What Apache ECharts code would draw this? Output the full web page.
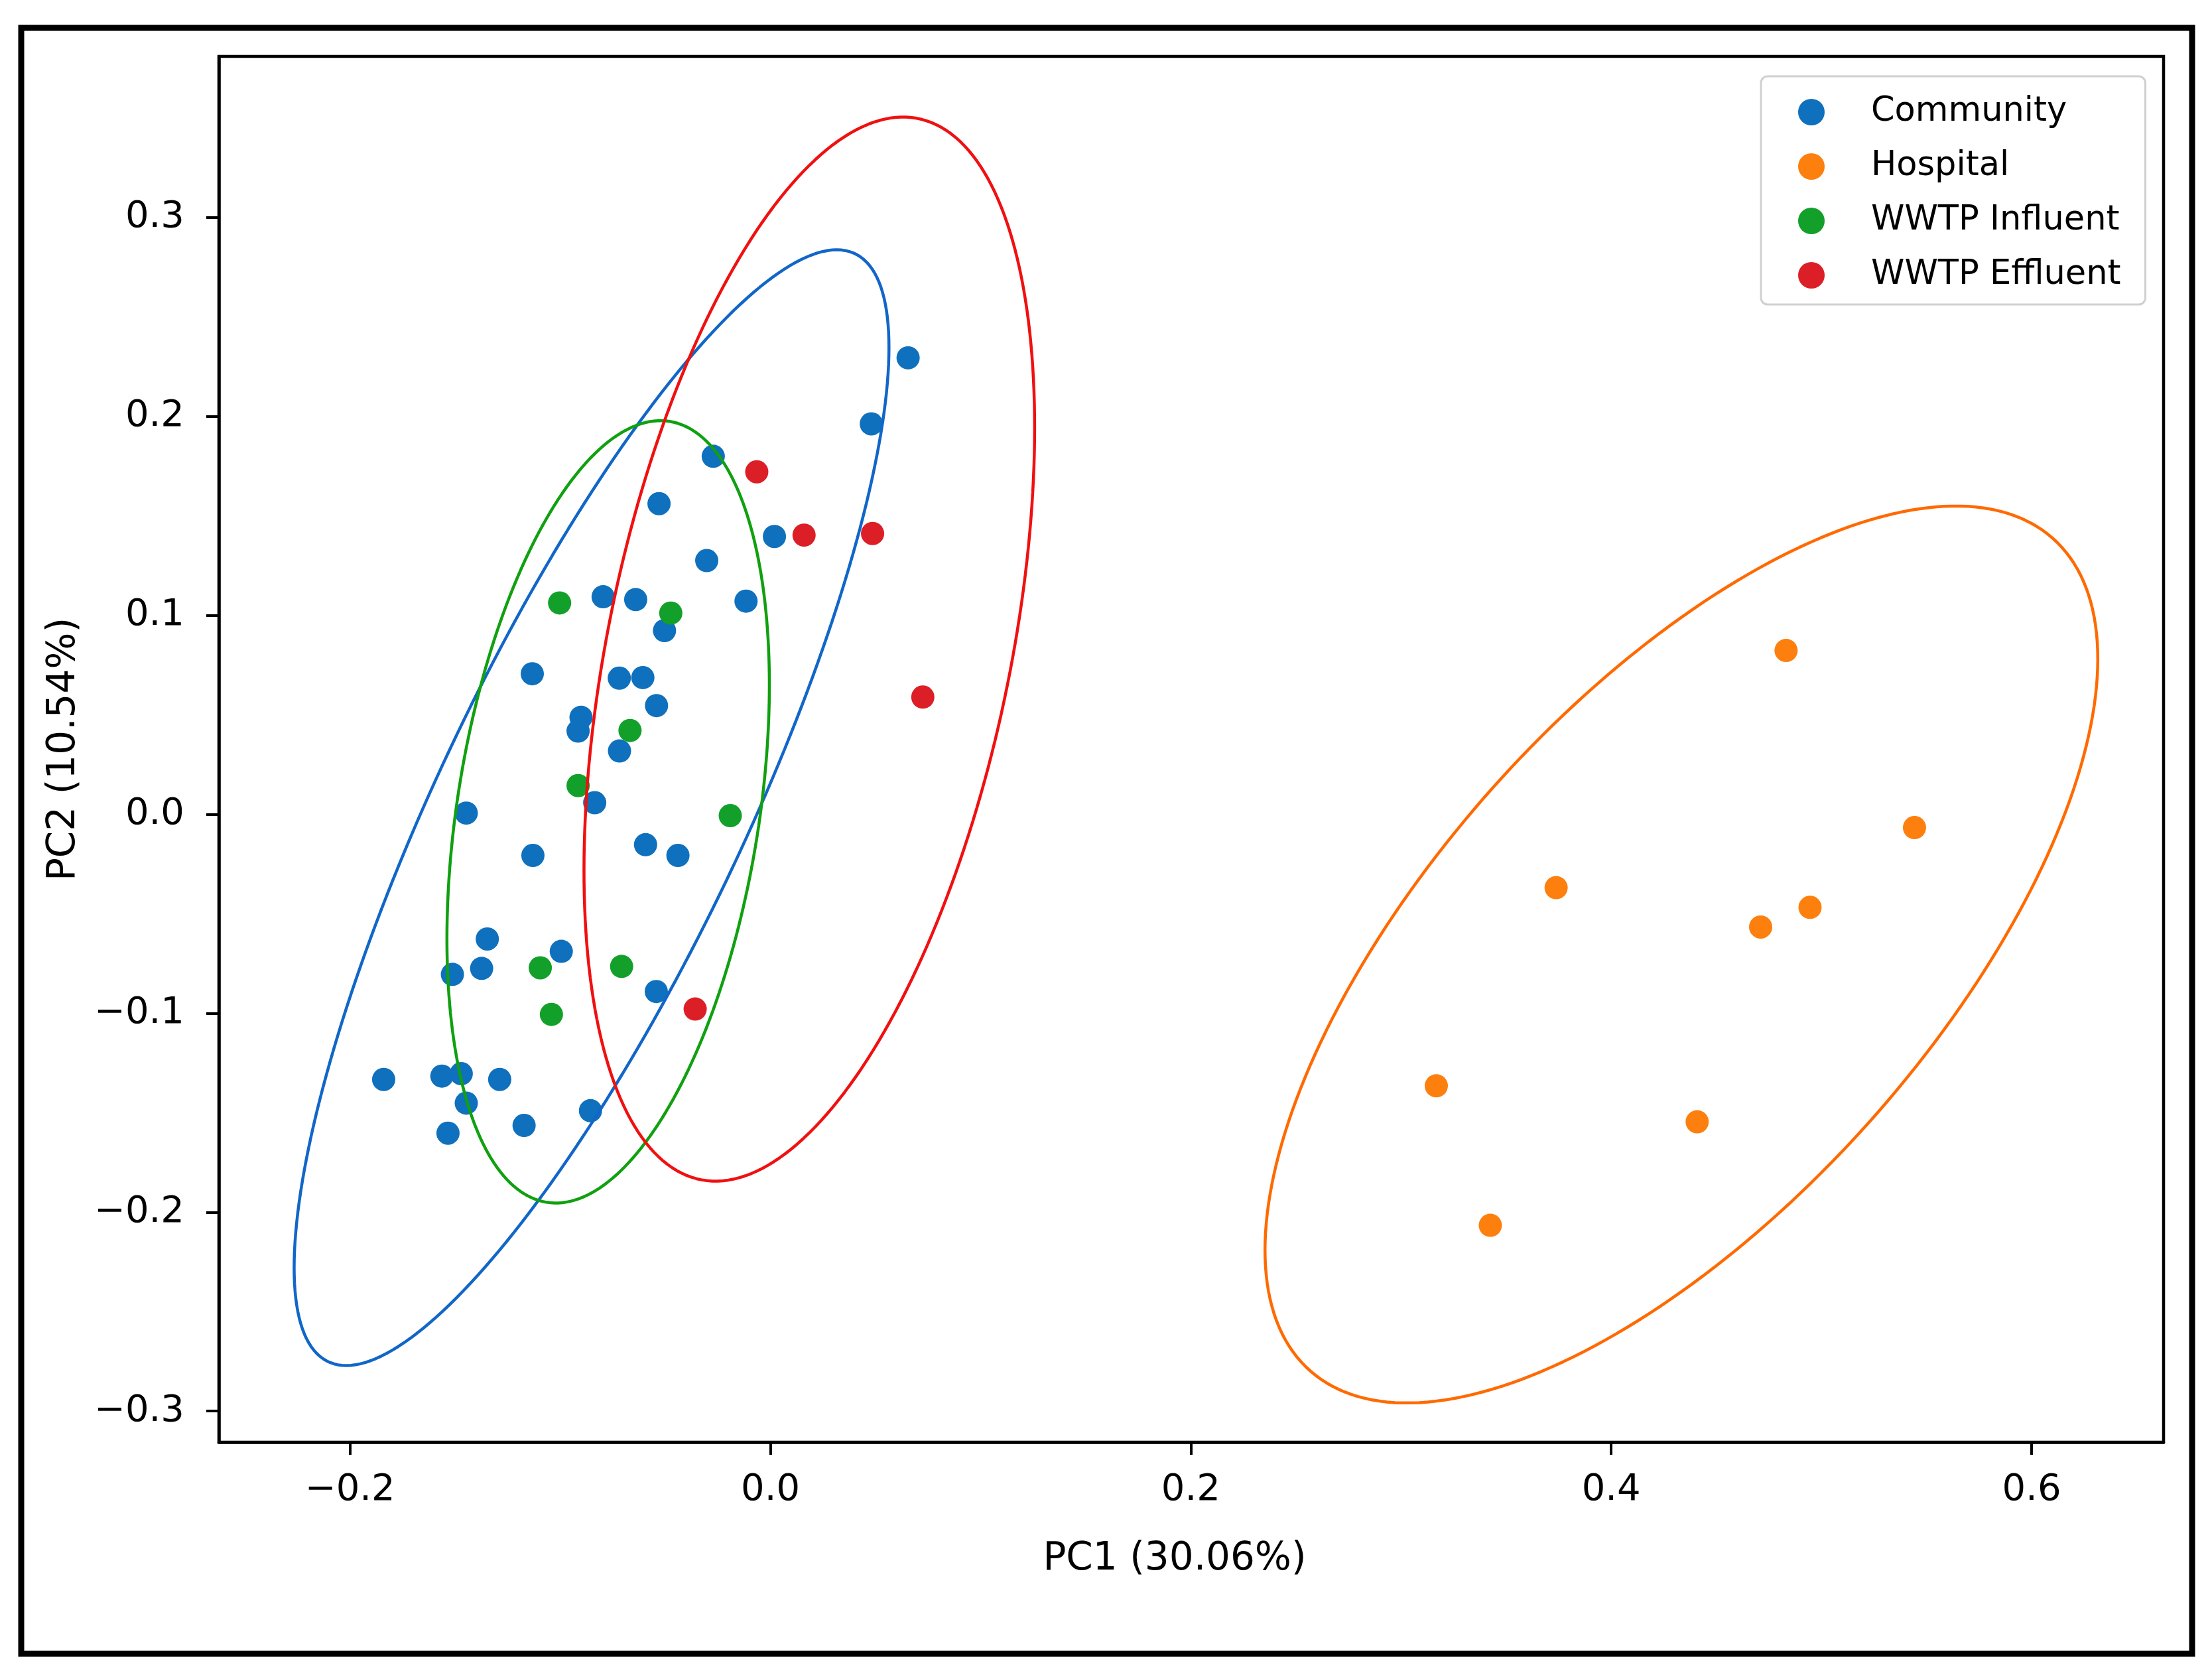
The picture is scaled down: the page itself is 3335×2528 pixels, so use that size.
<!DOCTYPE html>
<html>
<head>
<meta charset="utf-8">
<title>PCA</title>
<script src="https://cdn.jsdelivr.net/npm/echarts@6/dist/echarts.min.js"></script>
<style>
    html, body { margin: 0; padding: 0; background: #ffffff; }
    #chart { width: 3335px; height: 2528px; }
</style>
</head>
<body>
<div id="chart"></div>
<script>
// groups and their sample scores (PC1, PC2)
var groups = ["Community", "Hospital", "WWTP Influent", "WWTP Effluent"];

var community = [
    [0.0655, 0.2294], [0.0480, 0.1962], [-0.0272, 0.1799], [-0.0530, 0.1561],
    [0.0019, 0.1396], [-0.0303, 0.1275], [-0.0116, 0.1071], [-0.0796, 0.1093],
    [-0.0641, 0.1079], [-0.0504, 0.0923], [-0.1133, 0.0706], [-0.0719, 0.0684],
    [-0.0607, 0.0687], [-0.0542, 0.0546], [-0.0901, 0.0487], [-0.0915, 0.0418],
    [-0.0718, 0.0318], [-0.0836, 0.0058], [-0.1447, 0.0006], [-0.0594, -0.0153],
    [-0.1130, -0.0207], [-0.0440, -0.0207], [-0.1347, -0.0627], [-0.0995, -0.0689],
    [-0.1513, -0.0805], [-0.1374, -0.0775], [-0.0543, -0.0891], [-0.1840, -0.1333],
    [-0.1563, -0.1316], [-0.1471, -0.1304], [-0.1288, -0.1333], [-0.1447, -0.1452],
    [-0.1534, -0.1603], [-0.1172, -0.1564], [-0.0856, -0.1490]
];
var hospital = [
    [0.4832, 0.0823], [0.5443, -0.0067], [0.3738, -0.0369], [0.4946, -0.0468],
    [0.4711, -0.0567], [0.3168, -0.1365], [0.4409, -0.1546], [0.3425, -0.2066]
];
var influent = [
    [-0.1003, 0.1062], [-0.0474, 0.1011], [-0.0668, 0.0421], [-0.0915, 0.0144],
    [-0.0191, -0.0007], [-0.1095, -0.0772], [-0.0708, -0.0765], [-0.1042, -0.1006]
];
var effluent = [
    [-0.0065, 0.1721], [0.0160, 0.1403], [0.0486, 0.1411], [0.0725, 0.0589],
    [-0.0358, -0.0979]
];

// confidence ellipses: [centerX, centerY, halfWidthX, halfHeightY, yOffsetAtRightmost]
var ellCommunity = [-0.0851, 0.0033, 0.1415, 0.2804, 0.2312];
var ellHospital = [0.4334, -0.0705, 0.1981, 0.2254, 0.1486];
var ellInfluent = [-0.0772, 0.0012, 0.0767, 0.1966, 0.0638];
var ellEffluent = [0.0185, 0.0830, 0.1072, 0.2674, 0.1113];

var xTicks = [-0.2, 0.0, 0.2, 0.4, 0.6];
var yTicks = [-0.3, -0.2, -0.1, 0.0, 0.1, 0.2, 0.3];
var xRange = [-0.2624, 0.6628];
var yRange = [-0.3156, 0.3809];

var dotColors = ["#0f70bd", "#fd7f0e", "#13a02a", "#dc1f26"];
var lineColors = ["#1166c8", "#ff6a00", "#10a010", "#f01010"];
var font = "DejaVu Sans";

function outline(e) {
    var pts = [];
    var s = Math.sqrt(e[3] * e[3] - e[4] * e[4]);
    for (var i = 0; i <= 240; i++) {
        var t = 2 * Math.PI * i / 240;
        pts.push([e[0] + e[2] * Math.cos(t), e[1] + e[4] * Math.cos(t) + s * Math.sin(t)]);
    }
    return pts;
}

function tickText(v) {
    return (v < 0 ? "\u2212" : "") + Math.abs(v).toFixed(1);
}

function pca() {
    var myChart = echarts.init(document.getElementById("chart"), null, { renderer: "canvas" });

    var points = [community, hospital, influent, effluent];
    var ellipses = [ellCommunity, ellHospital, ellInfluent, ellEffluent];
    var series = [];

    points.forEach(function (d, i) {
        series.push({
            name: groups[i],
            type: "scatter",
            data: d,
            symbol: "circle",
            symbolSize: 35,
            itemStyle: { color: dotColors[i], opacity: 1 },
            z: 2,
        });
    });
    ellipses.forEach(function (e, i) {
        series.push({
            name: groups[i] + " ellipse",
            type: "line",
            data: outline(e),
            showSymbol: false,
            symbol: "none",
            silent: true,
            lineStyle: { color: lineColors[i], width: 4.5 },
            z: 3,
        });
    });

    var option = {
        backgroundColor: "#ffffff",
        animation: false,
        graphic: [
            {
                type: "rect",
                shape: { x: 32, y: 42, width: 3273, height: 2451 },
                style: { fill: "none", stroke: "#000000", lineWidth: 9 },
                z: 100,
            },
        ],
        grid: {
            left: 330,
            right: 73,
            top: 85,
            bottom: 354,
            show: true,
            borderColor: "#000000",
            borderWidth: 4.5,
            outerBoundsMode: "none",
        },
        legend: {
            data: groups.map(function (g) { return { name: g, icon: "circle" }; }),
            orient: "vertical",
            left: 2655,
            top: 115,
            itemWidth: 40,
            itemHeight: 40,
            itemGap: 22,
            padding: [24, 37, 14, 56],
            borderColor: "#d0d0d0",
            borderWidth: 3,
            borderRadius: 10,
            backgroundColor: "rgba(255,255,255,0.85)",
            textStyle: {
                fontFamily: font,
                fontSize: 51,
                color: "#000000",
                lineHeight: 60,
                padding: [0, 0, 0, 65],
            },
        },
        xAxis: {
            type: "value",
            min: xRange[0],
            max: xRange[1],
            name: "PC1 (30.06%)",
            nameLocation: "middle",
            nameGap: 148,
            nameTextStyle: { fontFamily: font, fontSize: 58, color: "#000000", padding: [0, 50, 0, 0] },
            splitLine: { show: false },
            axisLine: { show: true, onZero: false, lineStyle: { color: "#000000", width: 4.5 } },
            axisTick: { show: true, length: 19, customValues: xTicks, lineStyle: { color: "#000000", width: 4 } },
            axisLabel: {
                customValues: xTicks,
                formatter: tickText,
                fontFamily: font,
                fontSize: 56,
                color: "#000000",
                margin: 44,
            },
        },
        yAxis: {
            type: "value",
            min: yRange[0],
            max: yRange[1],
            name: "PC2 (10.54%)",
            nameLocation: "middle",
            nameGap: 204,
            nameRotate: 90,
            nameTextStyle: { fontFamily: font, fontSize: 58, color: "#000000" },
            splitLine: { show: false },
            axisLine: { show: true, onZero: false, lineStyle: { color: "#000000", width: 4.5 } },
            axisTick: { show: true, length: 19, customValues: yTicks, lineStyle: { color: "#000000", width: 4 } },
            axisLabel: {
                customValues: yTicks,
                formatter: tickText,
                fontFamily: font,
                fontSize: 56,
                color: "#000000",
                margin: 52,
            },
        },
        series: series,
    };

    myChart.setOption(option);
    window.addEventListener("resize", function () {
        myChart.resize();
    });
}

pca();
</script>
</body>
</html>
